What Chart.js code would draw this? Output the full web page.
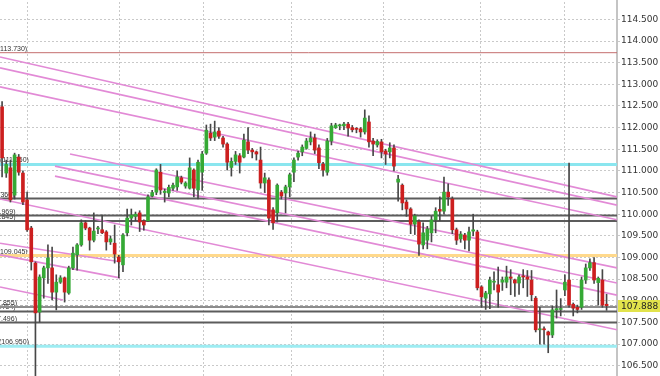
<!DOCTYPE html>
<html>
<head>
<meta charset="utf-8">
<script src="https://cdn.jsdelivr.net/npm/chart.js@4.4.0/dist/chart.umd.min.js"></script>
<style>
  html, body { margin: 0; padding: 0; background: #fff; overflow: hidden; width: 660px; height: 376px; }
  #wrap { position: absolute; left: 0; top: -10px; width: 660px; height: 396px; }
</style>
</head>
<body>
<div id="wrap"><canvas id="c" width="660" height="396"></canvas></div>
<script>
/* candles, oldest first (index = bar slot) */
const opens = [
  112.48, 110.95, 111.07, 110.44, 111.32, 110.95, 110.33, 109.68, 108.87, 107.74,
  108.53, 108.76, 108.76, 108.20, 108.43, 108.53, 108.18, 108.76, 109.06, 109.29,
  109.80, 109.68, 109.40, 109.66, 109.64, 109.59, 109.36, 109.33, 109.01, 108.83,
  109.57, 109.91, 109.95, 110.03, 109.84, 109.85, 110.42, 110.51, 110.97, 110.50,
  110.49, 110.60, 110.63, 110.84, 110.65, 110.60, 111.02, 110.56, 110.97, 111.41,
  111.87, 111.78, 111.92, 111.76, 111.62, 111.08, 111.22, 111.35, 111.32, 111.67,
  111.48, 111.44, 111.25, 110.72, 110.79, 110.10, 110.03, 110.51, 110.49, 110.63,
  110.97, 111.32, 111.44, 111.52, 111.67, 111.76, 111.53, 111.16, 110.97, 111.69,
  112.00, 112.04, 112.04, 112.08, 112.00, 111.97, 111.97, 111.90, 112.13, 111.69,
  111.60, 111.67, 111.46, 111.44, 111.53, 110.74, 110.67, 110.28, 110.12, 109.77,
  109.82, 109.29, 109.40, 109.57, 109.87, 110.11, 110.07, 110.51, 110.35, 109.64,
  109.43, 109.52, 109.40, 109.61, 109.59, 108.32, 108.06, 108.16, 108.43, 108.37,
  108.43, 108.43, 108.55, 108.48, 108.41, 108.56, 108.55, 108.48, 108.06, 107.33,
  107.34, 107.28, 107.21, 107.79, 107.80, 108.25, 108.48, 107.92, 107.85, 107.85,
  108.48, 108.76, 108.88, 108.42, 108.48, 107.92
];
const highs = [
  112.60, 111.25, 111.25, 111.41, 111.38, 111.00, 110.51, 109.72, 108.90, 108.60,
  108.80, 109.29, 109.24, 108.60, 108.58, 108.55, 108.80, 109.24, 109.32, 109.87,
  109.85, 109.70, 110.03, 109.72, 109.98, 109.62, 109.50, 109.75, 109.05, 109.55,
  110.12, 110.12, 110.05, 110.08, 109.87, 110.45, 110.55, 111.05, 111.15, 110.58,
  110.67, 110.72, 111.00, 110.88, 110.75, 111.30, 111.05, 111.25, 111.45, 112.06,
  112.08, 112.15, 112.00, 111.80, 111.65, 111.30, 111.45, 111.40, 111.85, 112.00,
  111.52, 111.46, 111.55, 110.95, 110.84, 110.15, 110.70, 110.55, 110.67, 110.95,
  111.30, 111.46, 111.60, 111.75, 111.90, 111.85, 111.60, 111.20, 111.75, 112.10,
  112.10, 112.08, 112.12, 112.12, 112.05, 112.00, 112.00, 112.41, 112.27, 111.75,
  111.72, 111.73, 111.50, 111.65, 111.60, 110.90, 110.70, 110.33, 110.15, 110.00,
  109.87, 109.80, 109.72, 109.95, 110.15, 110.40, 110.86, 110.70, 110.40, 109.68,
  109.60, 109.56, 109.70, 110.00, 109.63, 108.35, 108.22, 108.55, 108.67, 108.78,
  108.55, 108.80, 108.72, 108.50, 108.60, 108.72, 108.70, 108.70, 108.10, 107.85,
  107.40, 107.30, 107.88, 108.25, 108.05, 108.60, 111.18, 107.95, 107.90, 108.55,
  108.85, 108.97, 109.00, 108.55, 108.72, 108.15
];
const lows = [
  110.86, 110.85, 110.28, 110.35, 110.90, 110.22, 109.60, 108.71, 105.90, 107.51,
  108.06, 108.40, 108.02, 107.79, 108.40, 107.97, 108.15, 108.72, 108.71, 109.26,
  109.64, 109.17, 109.36, 109.55, 109.55, 109.17, 109.30, 108.87, 108.53, 108.67,
  109.50, 109.75, 109.85, 109.60, 109.63, 109.83, 110.40, 110.45, 110.46, 110.28,
  110.40, 110.55, 110.55, 110.70, 110.60, 110.58, 110.40, 110.35, 110.55, 111.38,
  111.70, 111.70, 111.75, 111.55, 111.02, 110.88, 111.15, 110.95, 111.30, 111.40,
  111.30, 111.25, 110.60, 110.50, 109.75, 109.65, 109.82, 110.35, 110.03, 110.40,
  110.75, 111.25, 111.35, 111.50, 111.60, 111.40, 111.05, 110.88, 110.90, 111.60,
  111.98, 111.95, 111.95, 111.80, 111.90, 111.88, 111.78, 111.85, 111.55, 111.35,
  111.55, 111.30, 111.15, 111.30, 111.00, 110.30, 110.10, 109.95, 109.55, 109.53,
  109.05, 109.20, 109.20, 109.36, 109.57, 109.85, 110.00, 110.20, 109.55, 109.30,
  109.35, 109.20, 109.15, 109.50, 108.25, 107.85, 107.80, 107.82, 108.25, 107.85,
  108.24, 108.30, 108.14, 108.10, 108.15, 108.30, 108.10, 108.00, 107.28, 107.00,
  107.00, 106.80, 107.15, 107.60, 107.65, 108.12, 107.85, 107.65, 107.72, 107.80,
  108.40, 108.70, 108.40, 107.90, 107.85, 107.78
];
const closes = [
  111.30, 111.15, 110.33, 111.37, 110.97, 110.28, 109.64, 108.90, 107.72, 108.55,
  108.76, 108.99, 108.20, 108.43, 108.53, 108.20, 108.76, 109.10, 109.29, 109.80,
  109.68, 109.40, 109.61, 109.67, 109.57, 109.36, 109.43, 109.08, 108.90, 109.52,
  109.91, 109.98, 110.00, 109.82, 109.75, 110.40, 110.50, 111.02, 110.56, 110.53,
  110.62, 110.67, 110.86, 110.74, 110.72, 111.07, 110.60, 111.20, 111.39, 111.94,
  111.76, 111.90, 111.80, 111.62, 111.20, 111.22, 111.37, 111.20, 111.71, 111.48,
  111.44, 111.39, 110.72, 110.84, 109.91, 109.80, 110.67, 110.42, 110.63, 110.91,
  111.25, 111.41, 111.55, 111.69, 111.76, 111.48, 111.19, 111.02, 111.69, 112.04,
  112.06, 112.04, 112.08, 111.99, 111.95, 111.96, 111.90, 112.22, 111.67, 111.62,
  111.68, 111.44, 111.39, 111.53, 111.11, 110.81, 110.26, 110.12, 109.77, 109.96,
  109.31, 109.57, 109.66, 109.87, 110.07, 110.07, 110.51, 110.40, 109.64, 109.40,
  109.54, 109.40, 109.59, 109.64, 108.30, 108.09, 108.18, 108.48, 108.44, 108.20,
  108.48, 108.55, 108.52, 108.41, 108.55, 108.55, 108.50, 108.14, 107.33, 107.35,
  107.33, 107.21, 107.79, 107.82, 107.82, 108.43, 107.90, 107.83, 107.80, 108.48,
  108.76, 108.88, 108.48, 108.52, 107.90, 107.888
];
const lastPrice = 107.888;
const slotCount = 148;

/* price axis ticks and time-grid positions (bar slots) */
const priceTicks = [106.5, 107, 107.5, 108, 108.5, 109, 109.5, 110, 110.5, 111, 111.5, 112, 112.5, 113, 113.5, 114, 114.5, 115];
const timeGrid = [6.05, 28.1, 48.3, 69.5, 91.4, 114.8, 134.8];

/* horizontal levels */
const levelPrices = [113.730, 111.150, 110.360, 109.969, 109.845, 109.045, 107.855, 107.754, 107.496, 106.950];
const levelLabels = ["(113.730)", "(111.150)", "(110.360)", "(109.969)", "(109.845)", "(109.045)", "(107.855)", "(107.754)", "(107.496)", "(106.950)"];

/* trend channel lines: start/end slot and price */
const trendX0 = [-0.5, -0.5, -0.5, 16.29, 12.69, 12.69, -0.5, -0.5, -0.5, -0.5];
const trendY0 = [113.63, 113.38, 112.94, 111.39, 111.11, 110.88, 110.35, 109.33, 109.06, 108.32];
const trendX1 = [147.5, 147.5, 147.5, 147.5, 147.5, 147.5, 147.5, 28.28, 28.28, 14.61];
const trendY1 = [110.40, 110.21, 109.87, 108.76, 108.41, 108.13, 107.33, 108.90, 108.53, 108.02];

/* ---- styles (kept apart from the data) ---- */
const UP = "#35a935", DOWN = "#cc1f1f", WICK = "#474747", PINK = "#e28ad6";
const levelStyle = [
  { c: "#c46e6e", w: 1, dx: -2.3 },
  { c: "#8ae6ef", w: 3, dx: 0 },
  { c: "#5c5c5c", w: 2, dx: -15 },
  { c: "#5c5c5c", w: 2, dx: -14.5 },
  { c: "#5c5c5c", w: 2, dx: -14.5 },
  { c: "#ffd98c", w: 3, dx: -2.3 },
  { c: "#8c8c8c", w: 2, dx: -13 },
  { c: "#5c5c5c", w: 2, dx: -14.3 },
  { c: "#5c5c5c", w: 2, dx: -13 },
  { c: "#9decf2", w: 3, dx: -1 },
];
const X0 = -0.5, X1 = slotCount - 0.5;

const datasets = [];
datasets.push({
  type: "bar", label: "wick", order: 2, grouped: false, barThickness: 1,
  backgroundColor: WICK,
  data: opens.map((o, i) => ({ x: i, y: [lows[i], highs[i]] })),
});
datasets.push({
  type: "bar", label: "body", order: 1, grouped: false, barThickness: 3, minBarLength: 1,
  backgroundColor: opens.map((o, i) => closes[i] >= o ? UP : DOWN),
  data: opens.map((o, i) => ({ x: i, y: [Math.min(o, closes[i]), Math.max(o, closes[i])] })),
});
levelPrices.forEach((p, k) => datasets.push({
  type: "line", order: 20, borderColor: levelStyle[k].c, borderWidth: levelStyle[k].w,
  pointRadius: 0, data: [{ x: X0, y: p }, { x: X1, y: p }],
}));
datasets.push({
  type: "line", order: 19, borderColor: "#a8a8a8", borderWidth: 1, borderDash: [3, 2],
  pointRadius: 0, data: [{ x: X0, y: lastPrice }, { x: X1, y: lastPrice }],
});
trendX0.forEach((x, k) => datasets.push({
  type: "line", order: 10, borderColor: PINK, borderWidth: 1.6, pointRadius: 0,
  data: [{ x, y: trendY0[k] }, { x: trendX1[k], y: trendY1[k] }],
}));

// level captions sit under the candles, price tag on top of the axis
const levelText = {
  id: "levelText",
  beforeDatasetsDraw(chart) {
    const { ctx, chartArea: a, scales: { y } } = chart;
    ctx.save();
    ctx.beginPath(); ctx.rect(a.left, a.top, a.right - a.left, a.bottom - a.top); ctx.clip();
    ctx.font = "7px 'Liberation Sans', Arial, sans-serif";
    ctx.fillStyle = "#333"; ctx.textBaseline = "alphabetic"; ctx.textAlign = "left";
    levelPrices.forEach((p, k) => ctx.fillText(levelLabels[k], a.left + levelStyle[k].dx, y.getPixelForValue(p) - 2));
    ctx.restore();
  },
  afterDraw(chart) {
    const { ctx, chartArea: a, scales: { y } } = chart;
    const py = Math.round(y.getPixelForValue(lastPrice));
    ctx.save();
    ctx.fillStyle = "#e2e34c";
    ctx.fillRect(a.right + 1, py - 6, chart.width - a.right - 1, 12);
    ctx.font = "9px 'DejaVu Sans', Verdana, sans-serif";
    ctx.fillStyle = "#222"; ctx.textBaseline = "middle";
    ctx.fillText(lastPrice.toFixed(3), a.right + 4, py + 0.5);
    ctx.restore();
  },
};

new Chart(document.getElementById("c"), {
  type: "bar",
  data: { datasets },
  plugins: [levelText],
  options: {
    responsive: false, animation: false, devicePixelRatio: 1,
    layout: { padding: 0 },
    plugins: { legend: { display: false }, tooltip: { enabled: false } },
    scales: {
      x: {
        type: "linear", min: X0, max: X1, offset: false,
        afterBuildTicks: s => { s.ticks = timeGrid.map(v => ({ value: v })); },
        afterFit: s => { s.height = 0; },
        ticks: { display: false },
        grid: { color: "#c9c9c9", lineWidth: 1, drawTicks: false, offset: false },
        border: { display: false, dash: [2, 2] },
      },
      y: {
        type: "linear", position: "right", min: 106.032, max: 115.178,
        afterBuildTicks: s => { s.ticks = priceTicks.map(v => ({ value: v })); },
        afterFit: s => { s.width = 43; s.paddingTop = 0; s.paddingBottom = 0; },
        ticks: {
          color: "#333", padding: 1, font: { family: "'DejaVu Sans', Verdana, sans-serif", size: 9 },
          callback: v => Number(v).toFixed(3),
        },
        grid: { color: "#c9c9c9", lineWidth: 1, tickLength: 3 },
        border: { display: true, color: "#c4c4c4", width: 2, dash: [2, 2] },
      },
    },
  },
});
</script>
</body>
</html>
